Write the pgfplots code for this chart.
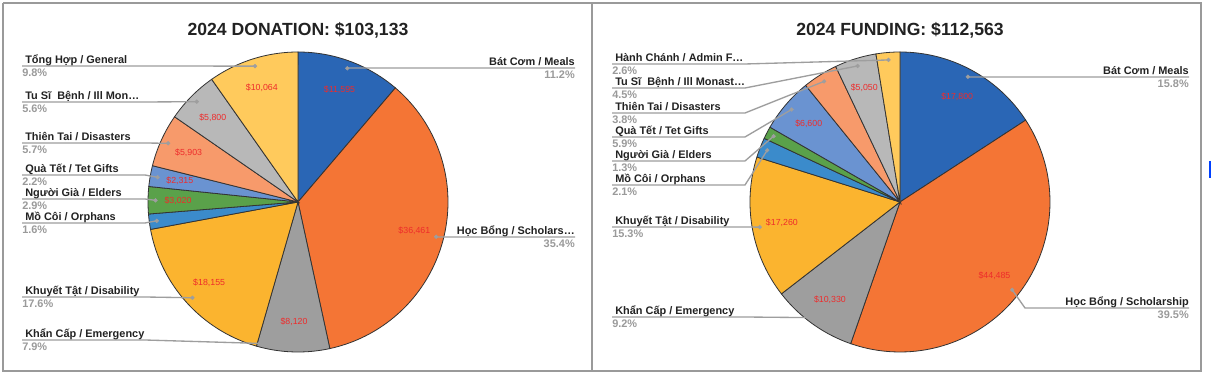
\documentclass[border=0pt]{standalone}
\usepackage{fontspec}
\setmainfont{Liberation Sans}
\usepackage{pgfplots}
\usepackage{pgfplotstable}
\pgfplotsset{compat=1.18}

\definecolor{cMeals}{HTML}{2A66B5}
\definecolor{cSchol}{HTML}{F47535}
\definecolor{cEmerg}{HTML}{9E9E9E}
\definecolor{cDisab}{HTML}{FBB42F}
\definecolor{cOrph}{HTML}{3B8BCB}
\definecolor{cElder}{HTML}{5AA14A}
\definecolor{cTet}{HTML}{6A93D1}
\definecolor{cDisas}{HTML}{F79A6B}
\definecolor{cIll}{HTML}{B8B8B8}
\definecolor{cGen}{HTML}{FFCA5C}
\definecolor{edgecol}{HTML}{333333}
\definecolor{labcol}{HTML}{222222}
\definecolor{pctcol}{HTML}{9A9A9A}
\definecolor{vcol}{HTML}{EE2B2B}
\definecolor{leadcol}{HTML}{9E9E9E}
\definecolor{framecol}{HTML}{9A9A9A}

\pgfkeys{/pgf/number format/assume math mode=true}

% 2024 donation, clockwise from the top
\pgfplotstableread{
value show color
11595 1 cMeals
36461 1 cSchol
8120 1 cEmerg
18155 1 cDisab
1700 0 cOrph
3020 1 cElder
2315 1 cTet
5903 1 cDisas
5800 1 cIll
10064 1 cGen
}\donation

% 2024 funding, clockwise from the top
\pgfplotstableread{
value show color
17800 1 cMeals
44485 1 cSchol
10330 1 cEmerg
17260 1 cDisab
2400 0 cOrph
1500 0 cElder
6600 1 cTet
4250 0 cDisas
5050 1 cIll
2888 0 cGen
}\funding

\tikzset{
  lab/.style={font=\fontsize{8.2}{9}\selectfont\bfseries, text=labcol, inner sep=0pt},
  pct/.style={font=\fontsize{8.2}{9}\selectfont\bfseries, text=pctcol, inner sep=0pt},
  vlab/.style={font=\fontsize{6.6}{7}\selectfont, text=vcol, inner sep=0pt},
  ttl/.style={font=\fontsize{13.2}{15}\selectfont\bfseries, text=labcol, inner sep=0pt},
  leader/.style={draw=leadcol, line width=1pt},
  dot/.style={only marks, mark=*, mark size=1.4pt, mark options={draw=leadcol, fill=leadcol}},
  frame/.style={draw=framecol, line width=1.1pt},
}

\def\R{150}

\newcommand\drawpie[3]{%
  \def\cx{#2}\def\cy{#3}%
  \def\total{0}%
  \pgfplotsforeachungrouped \idx in {0,...,9}{%
    \pgfplotstablegetelem{\idx}{value}\of{#1}%
    \edef\total{\fpeval{\total+\pgfplotsretval}}}%
  \def\cum{0}%
  \pgfplotsforeachungrouped \idx in {0,...,9}{%
    \pgfplotstablegetelem{\idx}{value}\of{#1}\edef\val{\pgfplotsretval}%
    \pgfplotstablegetelem{\idx}{color}\of{#1}\edef\col{\pgfplotsretval}%
    \pgfplotstablegetelem{\idx}{show}\of{#1}\edef\shw{\pgfplotsretval}%
    \edef\sa{\fpeval{round(\cum/\total*360,4)}}%
    \edef\sb{\fpeval{round((\cum+\val)/\total*360,4)}}%
    \edef\sm{\fpeval{(\sa+\sb)/2}}%
    \edef\temp{\noexpand\addplot[fill=\col, draw=edgecol, line width=0.6pt, domain=\sa:\sb, samples=80, variable=\noexpand\t] ({\cx+\R*sin(\noexpand\t)},{\cy-\R*cos(\noexpand\t)}) -- (axis cs:\cx,\cy) -- cycle;}\temp
    \expandafter\xdef\csname dx\idx\endcsname{\fpeval{round(\cx+0.95*\R*sind(\sm),3)}}%
    \expandafter\xdef\csname dy\idx\endcsname{\fpeval{round(\cy-0.95*\R*cosd(\sm),3)}}%
    \expandafter\xdef\csname pc\idx\endcsname{\fpeval{round(100*\val/\total,4)}}%
    \ifnum\shw=1
      \edef\vx{\fpeval{round(\cx+0.8*\R*sind(\sm),3)}}%
      \edef\vy{\fpeval{round(\cy-0.8*\R*cosd(\sm),3)}}%
      \edef\temp{\noexpand\node[vlab] at (axis cs:\vx,\vy) {\noexpand\$\noexpand\pgfmathprintnumber[fixed,precision=0,1000 sep={,}]{\val}};}\temp
    \fi
    \edef\cum{\fpeval{\cum+\val}}%
  }%
}

% idx, text x, line y, knee x, name
\newcommand\leftlab[5]{%
  \edef\temp{\noexpand\addplot[leader] coordinates {(\fpeval{#2-3},#3) (#4,#3) (\csname dx#1\endcsname,\csname dy#1\endcsname)};}\temp
  \edef\temp{\noexpand\addplot[dot] coordinates {(\csname dx#1\endcsname,\csname dy#1\endcsname)};}\temp
  \edef\temp{\noexpand\node[lab, anchor=base west] at (axis cs:#2,\fpeval{#3-2.6})}\temp {#5};
  \edef\temp{\noexpand\node[pct, anchor=base west] at (axis cs:\fpeval{#2-3},\fpeval{#3+10.8}) {\noexpand\pgfmathprintnumber[fixed,fixed zerofill,precision=1]{\csname pc#1\endcsname}\noexpand\%};}\temp
}
% idx, end x, line y, knee x, name
\newcommand\rightlab[5]{%
  \edef\temp{\noexpand\addplot[leader] coordinates {(\csname dx#1\endcsname,\csname dy#1\endcsname) (#4,#3) (#2,#3)};}\temp
  \edef\temp{\noexpand\addplot[dot] coordinates {(\csname dx#1\endcsname,\csname dy#1\endcsname)};}\temp
  \edef\temp{\noexpand\node[lab, anchor=base east] at (axis cs:#2,\fpeval{#3-2.6})}\temp {#5};
  \edef\temp{\noexpand\node[pct, anchor=base east] at (axis cs:#2,\fpeval{#3+10.8}) {\noexpand\pgfmathprintnumber[fixed,fixed zerofill,precision=1]{\csname pc#1\endcsname}\noexpand\%};}\temp
}

\begin{document}
\begin{tikzpicture}
\begin{axis}[
  scale only axis, width=908.25pt, height=279.75pt,
  xmin=0, xmax=1211, ymin=0, ymax=373, y dir=reverse,
  hide axis, clip=false]
\addplot[fill=white, draw=none] coordinates {(0,0) (1211,0) (1211,373) (0,373)} -- cycle;
\addplot[frame] coordinates {(3,3) (592,3) (592,371) (3,371) (3,3)};
\addplot[frame] coordinates {(592,3) (1201,3) (1201,371) (592,371)};
\addplot[draw=blue!75!cyan, line width=1.2pt] coordinates {(1210,161) (1210,178)};

\node[ttl] at (axis cs:298,30) {2024 DONATION: \$103,133};
\node[ttl] at (axis cs:900,30) {2024 FUNDING: \$112,563};

% ---------- donation pie ----------
\drawpie{\donation}{298}{202}
\rightlab{0}{575}{68}{348}{Bát Cơm / Meals}
\rightlab{1}{575}{237}{437}{Học Bổng / Scholars…}
\leftlab{2}{25}{340}{145}{Khẩn Cấp / Emergency}
\leftlab{3}{25}{297}{145}{Khuyết Tật / Disability}
\leftlab{4}{25}{223}{145}{Mồ Côi / Orphans}
\leftlab{5}{25}{199}{145}{Người Già / Elders}
\leftlab{6}{25}{175}{145}{Quà Tết / Tet Gifts}
\leftlab{7}{25}{143}{145}{Thiên Tai / Disasters}
\leftlab{8}{25}{102}{145}{Tu Sĩ\ \ Bệnh / Ill Mon…}
\leftlab{9}{25}{66}{145}{Tổng Hợp / General}

% ---------- funding pie ----------
\drawpie{\funding}{900}{202}
\rightlab{0}{1189}{77}{969}{Bát Cơm / Meals}
\rightlab{1}{1189}{308}{1025}{Học Bổng / Scholarship}
\leftlab{2}{615}{317}{745}{Khẩn Cấp / Emergency}
\leftlab{3}{615}{227}{745}{Khuyết Tật / Disability}
\leftlab{4}{615}{185}{745}{Mồ Côi / Orphans}
\leftlab{5}{615}{161}{745}{Người Già / Elders}
\leftlab{6}{615}{137}{745}{Quà Tết / Tet Gifts}
\leftlab{7}{615}{113}{745}{Thiên Tai / Disasters}
\leftlab{8}{615}{88}{745}{Tu Sĩ\ \ Bệnh / Ill Monast…}
\leftlab{9}{615}{64}{745}{Hành Chánh / Admin F…}
\end{axis}
\end{tikzpicture}
\end{document}
